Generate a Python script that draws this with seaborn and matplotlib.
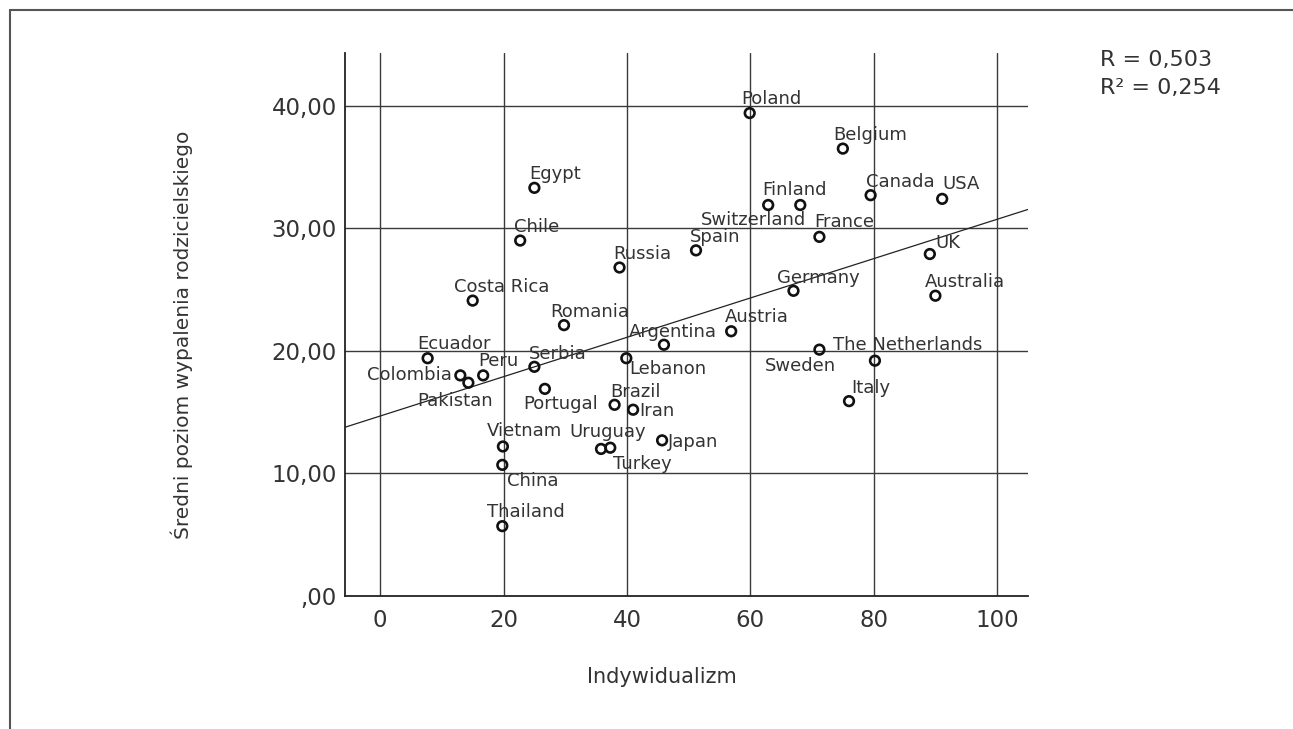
import numpy as np
import pandas as pd
import matplotlib
matplotlib.use("Agg")
import matplotlib.pyplot as plt
from matplotlib.lines import Line2D
from matplotlib.ticker import FuncFormatter
import seaborn as sns

# values
countries = ["Egypt", "Chile", "Costa Rica", "Romania", "Russia", "Spain", "Argentina",
             "Ecuador", "Colombia", "Pakistan", "Peru", "Serbia", "Portugal", "Lebanon",
             "Brazil", "Iran", "Japan", "Uruguay", "Turkey", "Vietnam", "China", "Thailand",
             "Austria", "The Netherlands", "Sweden", "Italy", "Poland", "Belgium", "Finland",
             "Switzerland", "Canada", "USA", "France", "UK", "Germany", "Australia"]
individualism = [25.0, 22.7, 15.0, 29.8, 38.8, 51.2, 46.0,
                 7.7, 13.0, 14.3, 16.7, 25.0, 26.7, 39.9,
                 38.0, 41.0, 45.7, 35.8, 37.3, 19.9, 19.8, 19.8,
                 56.9, 80.2, 71.2, 76.0, 59.9, 75.0, 62.9,
                 68.1, 79.5, 91.1, 71.2, 89.1, 67.0, 90.0]
burnout = [33.3, 29.0, 24.1, 22.1, 26.8, 28.2, 20.5,
           19.4, 18.0, 17.4, 18.0, 18.7, 16.9, 19.4,
           15.6, 15.2, 12.7, 12.0, 12.1, 12.2, 10.7, 5.7,
           21.6, 19.2, 20.1, 15.9, 39.4, 36.5, 31.9,
           31.9, 32.7, 32.4, 29.3, 27.9, 24.9, 24.5]
x_ticks = [0, 20, 40, 60, 80, 100]
y_ticks = [0, 10, 20, 30, 40]
stats_lines = ["R = 0,503", "R\u00b2 = 0,254"]

# label placement: (dx, dy) in pixels from the point, horizontal alignment
LABEL_OFFSETS = {
    "Egypt": (-5, 9, "left"), "Chile": (-6, 9, "left"), "Costa Rica": (-19, 9, "left"),
    "Romania": (-14, 8, "left"), "Russia": (-6, 9, "left"), "Spain": (-6, 8, "left"),
    "Argentina": (-35, 8, "left"), "Ecuador": (-10, 9, "left"), "Colombia": (-8, -5, "right"),
    "Pakistan": (-51, -23, "left"), "Peru": (-5, 9, "left"), "Serbia": (-6, 8, "left"),
    "Portugal": (-22, -20, "left"), "Lebanon": (3, -16, "left"), "Brazil": (-4, 8, "left"),
    "Iran": (6, -6, "left"), "Japan": (6, -7, "left"), "Uruguay": (-32, 12, "left"),
    "Turkey": (3, -21, "left"), "Vietnam": (-16, 10, "left"), "China": (5, -21, "left"),
    "Thailand": (-15, 9, "left"), "Austria": (-6, 9, "left"), "The Netherlands": (-42, 11, "left"),
    "Sweden": (-55, -21, "left"), "Italy": (2, 8, "left"), "Poland": (-8, 9, "left"),
    "Belgium": (-10, 9, "left"), "Finland": (-6, 10, "left"), "Switzerland": (6, -20, "right"),
    "Canada": (-5, 8, "left"), "USA": (0, 10, "left"), "France": (-5, 10, "left"),
    "UK": (6, 6, "left"), "Germany": (-16, 8, "left"), "Australia": (-11, 9, "left"),
}

df = pd.DataFrame({"country": countries, "idv": individualism, "burnout": burnout})

sns.set_style("white")
plt.rcParams["font.family"] = ["DejaVu Sans"]
TEXT = "#333333"

fig = plt.figure(figsize=(12.93, 7.29), dpi=100)
ax = fig.add_axes([0.2668, 0.1824, 0.5282, 0.7449])
ax.set_xlim(-5.7, 105)
ax.set_ylim(0, 44.3)

for v in x_ticks:
    ax.axvline(v, color="#3a3a3a", lw=1.0, zorder=0)
for v in y_ticks[1:]:
    ax.axhline(v, color="#3a3a3a", lw=1.0, zorder=0)

sns.regplot(data=df, x="idv", y="burnout", scatter=False, ci=None, truncate=False,
            line_kws={"color": "#222222", "lw": 0.9}, ax=ax)
sns.scatterplot(data=df, x="idv", y="burnout", s=48, facecolors="none",
                edgecolor="#111111", linewidth=1.9, zorder=3, ax=ax)
ax.set_xlim(-5.7, 105)
ax.set_ylim(0, 44.3)

for _, row in df.iterrows():
    dx, dy, ha = LABEL_OFFSETS[row["country"]]
    ax.annotate(row["country"], (row["idv"], row["burnout"]), xytext=(dx, dy),
                textcoords="offset pixels", ha=ha, va="baseline",
                fontsize=13, color=TEXT, zorder=4)

for side in ["top", "right"]:
    ax.spines[side].set_visible(False)
for side in ["left", "bottom"]:
    ax.spines[side].set_color("#222222")
    ax.spines[side].set_linewidth(1.3)

ax.set_xticks(x_ticks)
ax.set_yticks(y_ticks)


def comma_fmt(v, pos):
    s = f"{v:.2f}".replace(".", ",")
    return s[1:] if s.startswith("0") else s


ax.yaxis.set_major_formatter(FuncFormatter(comma_fmt))
ax.tick_params(axis="both", length=0, labelsize=16.5, labelcolor=TEXT)
ax.tick_params(axis="x", pad=9)
ax.tick_params(axis="y", pad=6)

ax.set_xlabel("Indywidualizm", fontsize=15, color=TEXT)
ax.set_ylabel("Średni poziom wypalenia rodzicielskiego", fontsize=14.5, color=TEXT)
ax.xaxis.set_label_coords(0.464, -0.131)
ax.yaxis.set_label_coords(-0.2225, 0.481)

fig.text(0.8507, 0.9177, stats_lines[0], fontsize=16, color=TEXT, va="center")
fig.text(0.8507, 0.8793, stats_lines[1], fontsize=16, color=TEXT, va="center")

# outer frame (top and left edges)
fig.add_artist(Line2D([0.0077, 1.0], [0.9863, 0.9863], transform=fig.transFigure,
                      color="#555555", lw=1.5))
fig.add_artist(Line2D([0.0077, 0.0077], [0.0, 0.9863], transform=fig.transFigure,
                      color="#555555", lw=1.5))

fig.savefig("out.png", dpi=100)
